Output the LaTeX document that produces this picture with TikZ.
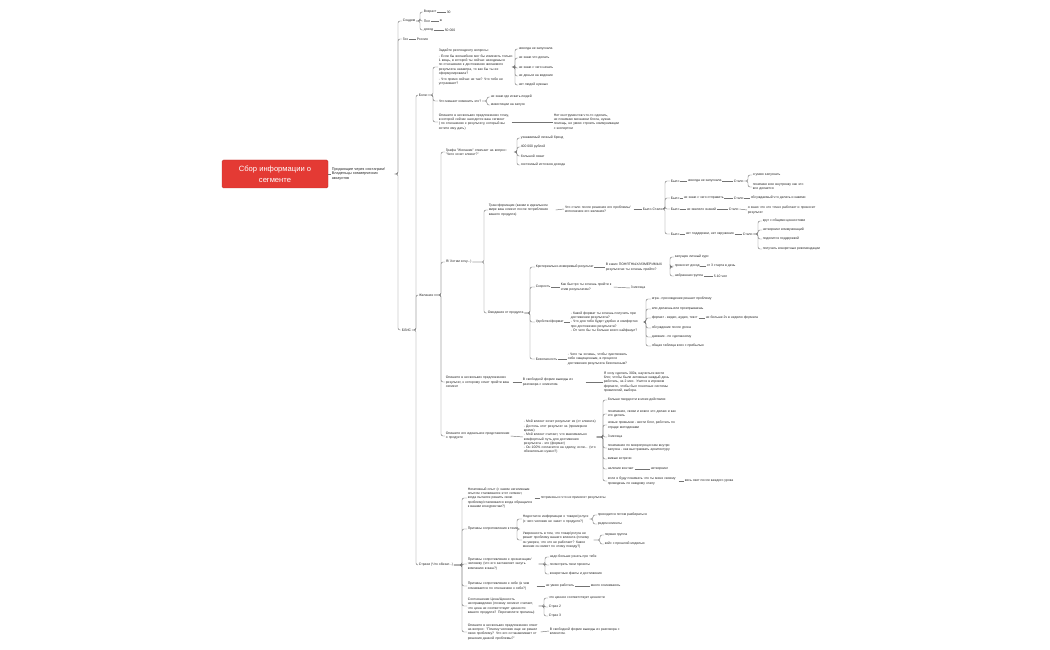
\documentclass[tikz,border=0pt]{standalone}
\usepackage{fontspec}
\setmainfont{Liberation Sans}
\definecolor{rootred}{RGB}{228,58,52}

\begin{document}
\begin{tikzpicture}[x=1pt,y=-1pt,
 txt/.style={anchor=west,inner sep=0.6pt,align=left,text=black!85,font=\fontsize{3.4}{4.3}\selectfont},
 para/.style={txt,text width=#1},
 root/.style={fill=rootred,draw=rootred!85!black,line width=0.4pt,rounded corners=1.5pt,minimum width=106pt,minimum height=28pt,text=white,align=center,font=\fontsize{7.6}{11}\selectfont},
 link/.style={draw=black!55,line width=0.45pt,rounded corners=2pt}
]
\useasboundingbox (0,0) rectangle (1050,650);

\node[root] (root) at (275,174) {Сбор информации о\\сегменте};
\node[para=62pt,font=\fontsize{3.8}{4.8}\selectfont] (seg) at (331,174) {Продающие через инстаграм/ Владельцы коммерческих аккаунтов};
\draw[link] (root.east) -- (seg.west);

% соцдем и гео
\node[txt] (socdem) at (402,21) {Соцдем};
\node[txt] (age) at (423,12) {Возраст};
\node[txt] (age1) at (446,12) {30};
\node[txt] (sex) at (423,21) {Пол};
\node[txt] (sex1) at (439,21) {ж};
\node[txt] (inc) at (423,30) {доход};
\node[txt] (inc1) at (444,30) {50 000};
\node[txt] (geo) at (402,39) {Гео};
\node[txt] (rus) at (416,39) {Россия};
\node[txt] (blis) at (401,330) {БЛИС};
\foreach \c in {socdem,geo,blis} \draw[link] (seg.east) -- (398,0 |- seg.east) |- (\c.west);
\foreach \c in {age,sex,inc} \draw[link] (socdem.east) -- (420,0 |- socdem.east) |- (\c.west);
\draw[link] (age.east) -- (age1.west);
\draw[link] (sex.east) -- (sex1.west);
\draw[link] (inc.east) -- (inc1.west);
\draw[link] (geo.east) -- (rus.west);

% боли
\node[txt] (boli) at (418,95) {Боли};
\node[para=75pt] (q1) at (438,67) {Задайте респонденту вопросы:\\[1.5pt]- Если бы волшебник мог бы изменить только 1 вещь, в которой ты сейчас находишься по отношению к достижению желаемого результата назавтра, то как бы ты ее сформулировала?\\[1.5pt]- Что прямо сейчас не так? Что тебя не устраивает?};
\node[txt] (q1a) at (518,49) {никогда не запускала};
\node[txt] (q1b) at (518,58) {не знаю что делать};
\node[txt] (q1c) at (518,68) {не знаю с чего начать};
\node[txt] (q1d) at (518,76) {не деньги на ведение};
\node[txt] (q1e) at (518,85) {нет людей нужных};
\node[txt] (q2) at (438,101) {Что мешает изменить это?};
\node[txt] (q2a) at (490,97) {не знаю где искать людей};
\node[txt] (q2b) at (490,105) {инвестиции на запуск};
\node[para=72pt] (q3) at (438,122) {Опишите в нескольких предложениях точку, в которой сейчас находится ваш сегмент ( по отношению к результату, который вы хотите ему дать)};
\node[para=70pt] (q3a) at (553,122) {Нет инструментов что-то сделать, не понимаю механики блога, нужна помощь, не умею строить коммуникации с экспертом};
\foreach \c in {q1,q2,q3} \draw[link] (boli.east) -- (433,0 |- boli.east) |- (\c.west);
\foreach \c in {q1a,q1b,q1c,q1d,q1e} \draw[link] (q1.east) -- (515,0 |- q1.east) |- (\c.west);
\foreach \c in {q2a,q2b} \draw[link] (q2.east) -- (487,0 |- q2.east) |- (\c.west);
\draw[link] (q3.east) -- (q3a.west);

% желания
\node[txt] (zhel) at (418,295) {Желания};
\node[para=70pt] (w1) at (445,152) {Графа "Желания" отвечает на вопрос: "Чего хочет клиент?"};
\node[txt] (w1a) at (520,138) {узнаваемый личный бренд};
\node[txt] (w1b) at (520,147) {400 000 рублей};
\node[txt] (w1c) at (520,156) {большой охват};
\node[txt] (w1d) at (520,165) {системный источник дохода};
\node[txt] (w2) at (445,262) {Я/ Хотим хочу...)};
\foreach \c in {w1,w2} \draw[link] (zhel.east) -- (441,0 |- zhel.east) |- (\c.west);
\foreach \c in {w1a,w1b,w1c,w1d} \draw[link] (w1.east) -- (517,0 |- w1.east) |- (\c.west);

% трансформация
\node[para=66pt] (tr) at (488,210) {Трансформация (каким в идеальном мире ваш клиент после потребления вашего продукта)};
\node[para=68pt] (tr1) at (564,209) {Что стало после решения его проблемы/ исполнения его желания?};
\node[txt] (bs) at (642,209) {Было-Стало};
\draw[link] (tr.east) -- (tr1.west);
\draw[link] (tr1.east) -- (bs.west);
\node[txt] (was1) at (670,181) {Было};
\node[txt] (was1a) at (687,181) {никогда не запускала};
\node[txt] (now1) at (733,181) {Стало};
\node[txt] (now1a) at (752,175) {я умею запускать};
\node[para=54pt] (now1b) at (752,187) {понимаю всю внутрянку как это все делается};
\node[txt] (was2) at (670,198) {Было};
\node[txt] (was2a) at (683,198) {не знаю с чего отправить};
\node[txt] (now2) at (733,198) {Стало};
\node[txt] (now2a) at (750,198) {обсуждаемый что делать и какими};
\node[txt] (was3) at (670,209) {Было};
\node[txt] (was3a) at (686,209) {не хватило знаний};
\node[txt] (now3) at (728,209) {Стало};
\node[para=72pt] (now3a) at (747,210) {я знаю что это точно работает и приносит результат};
\node[txt] (was4) at (670,234) {Было};
\node[txt] (was4a) at (685,234) {нет поддержки, нет окружения};
\node[txt] (now4) at (742,234) {Стало};
\node[txt] (now4a) at (762,221) {круг с общими ценностями};
\node[txt] (now4b) at (762,230) {нетворкинг коммуникаций};
\node[txt] (now4c) at (762,239) {поделится поддержкой};
\node[txt] (now4d) at (762,249) {получать конкретные рекомендации};
\foreach \c in {was1,was2,was3,was4} \draw[link] (bs.east) -- (665,0 |- bs.east) |- (\c.west);
\draw[link] (was1.east) -- (was1a.west);
\draw[link] (was1a.east) -- (now1.west);
\foreach \c in {now1a,now1b} \draw[link] (now1.east) -- (748,0 |- now1.east) |- (\c.west);
\draw[link] (was2.east) -- (was2a.west);
\draw[link] (was2a.east) -- (now2.west);
\draw[link] (now2.east) -- (now2a.west);
\draw[link] (was3.east) -- (was3a.west);
\draw[link] (was3a.east) -- (now3.west);
\draw[link] (now3.east) -- (now3a.west);
\draw[link] (was4.east) -- (was4a.west);
\draw[link] (was4a.east) -- (now4.west);
\foreach \c in {now4a,now4b,now4c,now4d} \draw[link] (now4.east) -- (758,0 |- now4.east) |- (\c.west);

% ожидания от продукта
\node[txt] (exp) at (487,313) {Ожидания от продукта};
\foreach \c in {tr,exp} \draw[link] (w2.east) -- (484,0 |- w2.east) |- (\c.west);
\node[txt] (crit) at (535,267) {Критериально-измеримый результат};
\node[para=64pt] (crit1) at (605,267) {В каких ПОНЯТНЫХ/ИЗМЕРИМЫХ результатах ты хочешь прийти?};
\node[txt] (crit2) at (674,257) {запущен личный курс};
\node[txt] (crit3) at (674,266) {приносит доход};
\node[txt] (crit3a) at (706,266) {от 3 старта в день};
\node[txt] (crit4) at (674,276) {набранная группа};
\node[txt] (crit4a) at (713,276) {5-10 чел};
\draw[link] (crit.east) -- (crit1.west);
\foreach \c in {crit2,crit3,crit4} \draw[link] (crit1.east) -- (670,0 |- crit1.east) |- (\c.west);
\draw[link] (crit3.east) -- (crit3a.west);
\draw[link] (crit4.east) -- (crit4a.west);
\node[txt] (spd) at (535,287) {Скорость};
\node[para=52pt] (spd1) at (560,287) {Как быстро ты хочешь прийти к этим результатам?};
\node[txt] (spd2) at (630,288) {3 месяца};
\draw[link] (spd.east) -- (spd1.west);
\draw[link] (spd1.east) -- (spd2.west);
\node[txt] (fmt) at (535,322) {Удобство/формат};
\node[para=72pt] (fmt1) at (570,322) {- Какой формат ты хочешь получить при достижении результата?\\- Что для тебя будет удобно и комфортно при достижении результата?\\- От чего бы ты больше всего кайфанул?};
\node[txt] (fmt2) at (651,299) {игра - прохождение решает проблему};
\node[txt] (fmt3) at (651,309) {или делаешь или проигрываешь};
\node[txt] (fmt4) at (651,318) {формат - видео, аудио, текст};
\node[txt] (fmt4a) at (705,318) {не больше 2ч в неделю формата};
\node[txt] (fmt5) at (651,328) {обсуждение после урока};
\node[txt] (fmt6) at (651,337) {дневник - по сделанному};
\node[txt] (fmt7) at (651,346) {общая таблица всех с прибылью};
\draw[link] (fmt.east) -- (fmt1.west);
\foreach \c in {fmt2,fmt3,fmt4,fmt5,fmt6,fmt7} \draw[link] (fmt1.east) -- (646,0 |- fmt1.east) |- (\c.west);
\draw[link] (fmt4.east) -- (fmt4a.west);
\node[txt] (safe) at (535,359) {Безопасность};
\node[para=66pt] (safe1) at (567,359) {- Чего ты хочешь, чтобы чувствовать себя защищенным, в процессе достижения результата безопасным?};
\draw[link] (safe.east) -- (safe1.west);
\foreach \c in {crit,spd,fmt,safe} \draw[link] (exp.east) -- (530,0 |- exp.east) |- (\c.west);

% результат и идеальный продукт
\node[para=66pt] (w3) at (445,382) {Опишите в нескольких предложениях результат, к которому хочет прийти ваш сегмент};
\node[para=62pt] (w3a) at (522,382) {В свободной форме выводы из разговора с клиентом.};
\node[para=72pt] (w3b) at (603,382) {Я хочу сделать 300к, научиться вести блог, чтобы были активные каждый день работать, за 2 мес. Учится в игровом формате, чтобы был понятные системы привилегий, выбора.};
\draw[link] (w3.east) -- (w3a.west);
\draw[link] (w3a.east) -- (w3b.west);
\node[para=64pt] (w4) at (445,436) {Опишите его идеальное представление о продукте};
\node[para=72pt] (w4a) at (523,437) {- Мой клиент хочет результат из (от клиента)\\- Достичь этот результат за (примерное время)\\- Мой клиент считает, что максимально комфортный путь для достижения результата - это (формат)\\- Он 100\% согласится на сделку, если... (что обязательно нужно?)};
\node[txt] (id1) at (607,400) {больше твердости в моих действиях};
\node[para=72pt] (id2) at (607,414) {понимание, связи и вовсе это делаю и как это делать};
\node[para=72pt] (id3) at (607,425) {новые привычки - вести блог, работать по отраде методиками};
\node[txt] (id4) at (607,437) {3 месяца};
\node[para=72pt] (id5) at (607,448) {понимание по микропроцессам внутри запуска - как выстраивать архитектуру};
\node[txt] (id6) at (607,459) {живые встречи};
\node[txt] (id7) at (607,469) {наличие контакт};
\node[txt] (id7a) at (650,469) {нетворкинг};
\node[para=70pt] (id8) at (607,481) {если я буду понимать что ты меня своему проведешь по каждому этапу};
\node[txt] (id8a) at (684,481) {весь свет после каждого урока};
\draw[link] (w4.east) -- (w4a.west);
\foreach \c in {id1,id2,id3,id4,id5,id6,id7,id8} \draw[link] (w4a.east) -- (603,0 |- w4a.east) |- (\c.west);
\draw[link] (id7.east) -- (id7a.west);
\draw[link] (id8.east) -- (id8a.west);
\foreach \c in {w3,w4} \draw[link] (zhel.east) -- (441,0 |- zhel.east) |- (\c.west);

% страхи
\node[txt] (fear) at (418,565) {Страхи (Что обязат...)};
\node[para=66pt] (f1) at (467,498) {Негативный опыт (с каким негативным опытом сталкивался этот сегмент, когда пытался решить свою проблему/сталкивался когда обращался к вашим конкурентам?)};
\node[txt] (f1a) at (540,498) {потрачены и что не приносят результаты};
\draw[link] (f1.east) -- (f1a.west);
\node[txt] (f2) at (467,529) {Причины сопротивления к теме};
\node[para=66pt] (f2a) at (522,519) {Недостаток информации о товаре/услуге (с чего человек не знает о продукте?)};
\node[txt] (f2a1) at (597,515) {приходится потом разбираться};
\node[txt] (f2a2) at (597,524) {рядом клиенты};
\node[para=70pt] (f2b) at (522,540) {Уверенность в том, что товар/услуга не решит проблему вашего клиента (почему он уверен, что это не работает? Какое мнение он имеет по этому поводу?)};
\node[txt] (f2b1) at (604,535) {первая группа};
\node[txt] (f2b2) at (604,544) {кейс с прошлой моделью};
\foreach \c in {f2a,f2b} \draw[link] (f2.east) -- (517,0 |- f2.east) |- (\c.west);
\foreach \c in {f2a1,f2a2} \draw[link] (f2a.east) -- (593,0 |- f2a.east) |- (\c.west);
\foreach \c in {f2b1,f2b2} \draw[link] (f2b.east) -- (600,0 |- f2b.east) |- (\c.west);
\node[para=70pt] (f3) at (467,564) {Причины сопротивления к организации/ человеку (что его заставляет засуть компанию в ваш?)};
\node[txt] (f3a) at (549,557) {надо больше узнать про тебя};
\node[txt] (f3b) at (549,565) {посмотреть твои проекты};
\node[txt] (f3c) at (549,574) {конкретные факты и достижения};
\foreach \c in {f3a,f3b,f3c} \draw[link] (f3.east) -- (545,0 |- f3.east) |- (\c.west);
\node[para=68pt] (f4) at (467,586) {Причины сопротивления к себе (в чем сомневается по отношению к себе?)};
\node[txt] (f4a) at (545,586) {не умею работать};
\node[txt] (f4b) at (590,586) {много сомневаюсь};
\draw[link] (f4.east) -- (f4a.west);
\draw[link] (f4a.east) -- (f4b.west);
\node[para=70pt] (f5) at (467,606) {Соотношение Цена/Ценность несправедливо (почему сегмент считает, что цена не соответствует ценности вашего продукта? Перечислите причины)};
\node[txt] (f5a) at (548,598) {что ценное соответствует ценности};
\node[txt] (f5b) at (548,607) {Страх 2};
\node[txt] (f5c) at (548,616) {Страх 3};
\foreach \c in {f5a,f5b,f5c} \draw[link] (f5.east) -- (544,0 |- f5.east) |- (\c.west);
\node[para=72pt] (f6) at (467,632) {Опишите в нескольких предложениях ответ на вопрос: "Почему человек еще не решил свою проблему? Что его останавливает от решения данной проблемы?"};
\node[para=72pt] (f6a) at (549,631) {В свободной форме выводы из разговора с клиентом.};
\draw[link] (f6.east) -- (f6a.west);
\foreach \c in {f1,f2,f3,f4,f5,f6} \draw[link] (fear.east) -- (462,0 |- fear.east) |- (\c.west);

\foreach \c in {boli,zhel,fear} \draw[link] (blis.east) -- (416,0 |- blis.east) |- (\c.west);
\end{tikzpicture}
\end{document}
